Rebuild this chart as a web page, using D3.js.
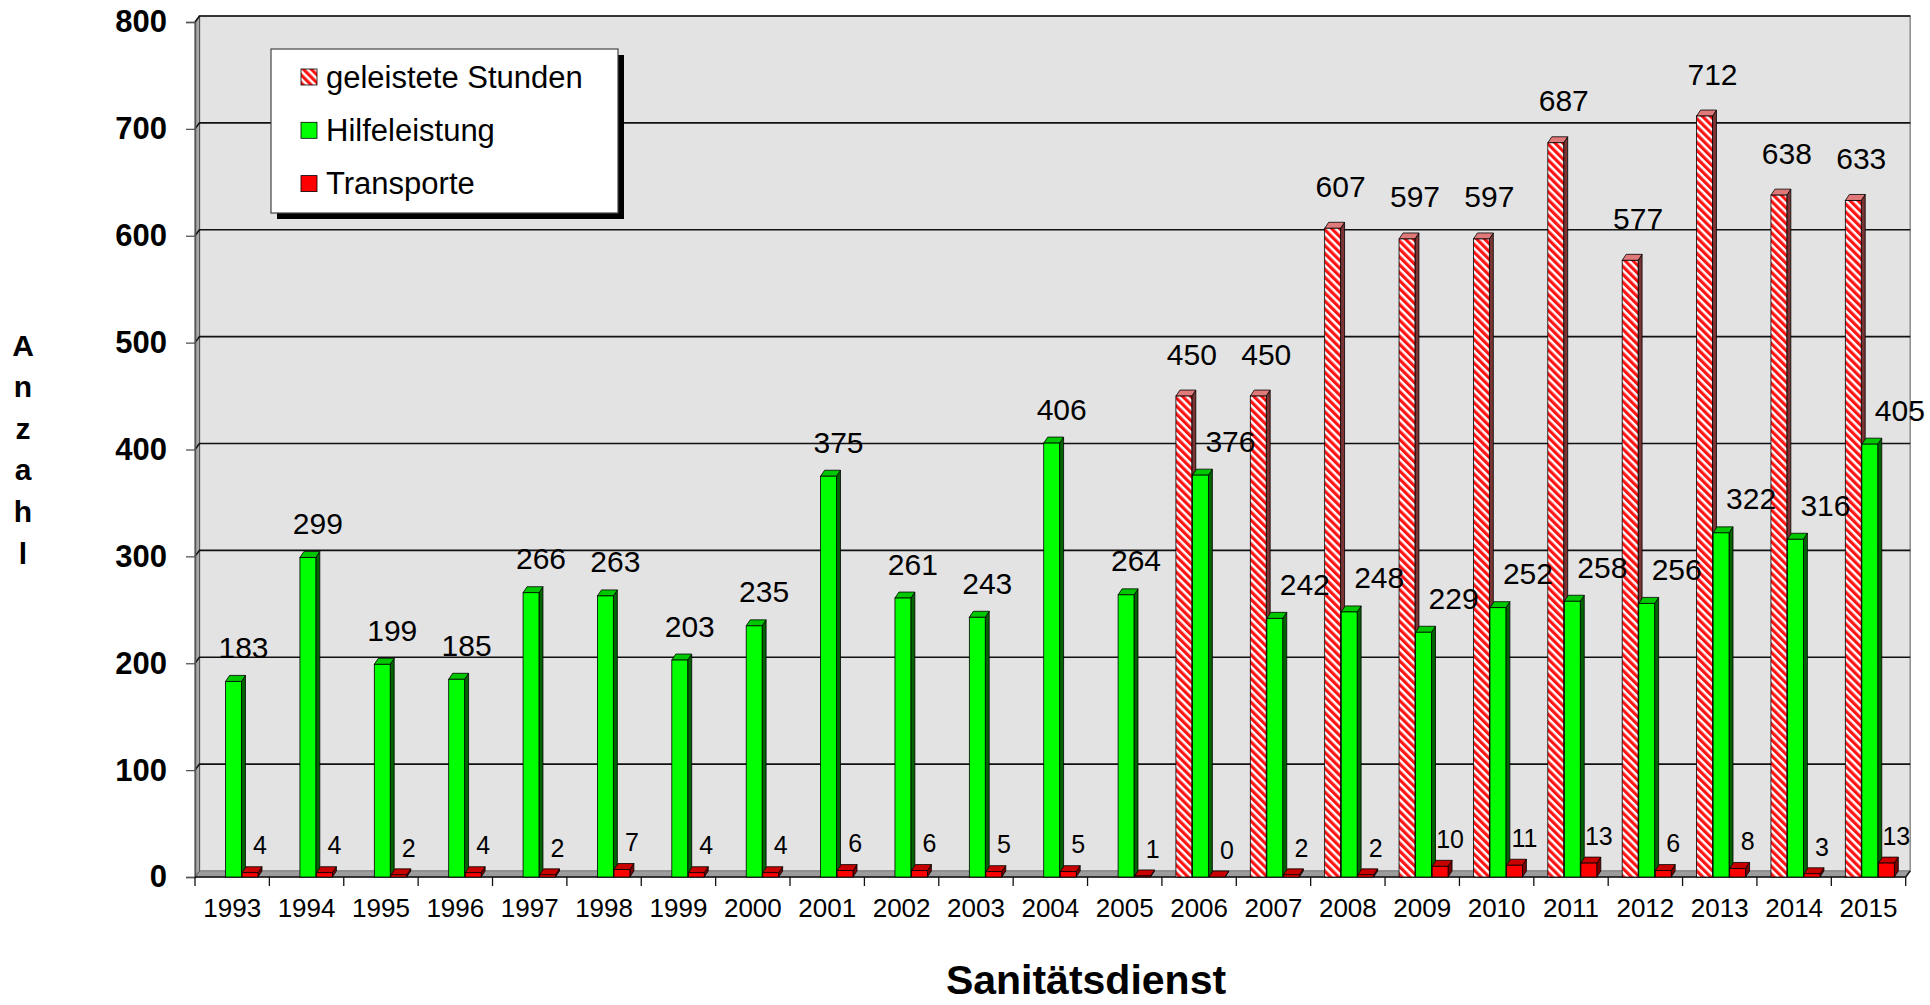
<!DOCTYPE html>
<html lang="de">
<head>
<meta charset="utf-8">
<title>Sanitätsdienst</title>
<style>
  body { margin: 0; background: #fff; }
  svg { display: block; font-family: "Liberation Sans", Arial, sans-serif; }
</style>
</head>
<body>
<script src="https://cdn.jsdelivr.net/npm/d3@7/dist/d3.min.js"></script>
<script>
// Werte
var years = [1993, 1994, 1995, 1996, 1997, 1998, 1999, 2000, 2001, 2002, 2003, 2004,
             2005, 2006, 2007, 2008, 2009, 2010, 2011, 2012, 2013, 2014, 2015];
var stunden = [null, null, null, null, null, null, null, null, null, null, null, null,
               null, 450, 450, 607, 597, 597, 687, 577, 712, 638, 633];
var hilfe = [183, 299, 199, 185, 266, 263, 203, 235, 375, 261, 243, 406,
             264, 376, 242, 248, 229, 252, 258, 256, 322, 316, 405];
var transporte = [4, 4, 2, 4, 2, 7, 4, 4, 6, 6, 5, 5,
                  1, 0, 2, 2, 10, 11, 13, 6, 8, 3, 13];
var seriesNames = ["geleistete Stunden", "Hilfeleistung", "Transporte"];
var yTicks = [0, 100, 200, 300, 400, 500, 600, 700, 800];
var axisTitle = "Anzahl";
var chartTitle = "Sanitätsdienst";

var width = 1930, height = 1005;
var depth = {x: 4.5, y: -6};      // Tiefe der Wände
var barDepth = {x: 4, y: -6};

var svg = d3.select("body").append("svg")
    .attr("width", width)
    .attr("height", height);

var defs = svg.append("defs");
var hatch = defs.append("pattern")
    .attr("id", "hatch")
    .attr("patternUnits", "userSpaceOnUse")
    .attr("width", 5.6)
    .attr("height", 5.6)
    .attr("patternTransform", "rotate(-45)");
hatch.append("rect").attr("width", 5.6).attr("height", 5.6).attr("fill", "#fff");
hatch.append("rect").attr("width", 3.2).attr("height", 5.6).attr("fill", "#ff1414");

var x = d3.scaleBand()
    .domain(years)
    .range([195, 1905.7])
    .padding(0);

var xs = d3.scaleBand()
    .domain(seriesNames)
    .range([14, 63])
    .paddingInner(0.04);

var y = d3.scaleLinear()
    .domain([0, 800])
    .range([877, 22]);

var x0 = x.range()[0], x1 = x.range()[1];
var yTop = y(800), yBase = y(0);

// Rückwand, Boden, Seitenwand
svg.append("rect")
    .attr("x", x0 + depth.x)
    .attr("y", yTop + depth.y)
    .attr("width", x1 - x0)
    .attr("height", yBase - yTop)
    .attr("fill", "#e3e3e3")
    .attr("stroke", "#8c8c8c")
    .attr("stroke-width", 1.5);

svg.append("polygon")
    .attr("points", [[x0, yBase], [x1, yBase], [x1 + depth.x, yBase + depth.y], [x0 + depth.x, yBase + depth.y]].join(" "))
    .attr("fill", "#9c9c9c")
    .attr("stroke", "#808080");

svg.append("polygon")
    .attr("points", [[x0, yTop], [x0 + depth.x, yTop + depth.y], [x0 + depth.x, yBase + depth.y], [x0, yBase]].join(" "))
    .attr("fill", "#a8a8a8")
    .attr("stroke", "#555");

// Gitternetz
var grid = svg.append("g");
grid.selectAll(".grid")
    .data(yTicks.filter(function(d){ return d > 0; }))
    .enter()
    .append("polyline")
    .attr("class", "grid")
    .attr("points", function(d){
        return [[x0, y(d)], [x0 + depth.x, y(d) + depth.y], [x1 + depth.x, y(d) + depth.y]].join(" ");
    })
    .attr("fill", "none")
    .attr("stroke", "#111")
    .attr("stroke-width", 1.6);

// Y-Achse
var yAxis = svg.append("g")
    .attr("transform", "translate(" + x0 + ",0)")
    .call(d3.axisLeft(y).tickValues(yTicks).tickSize(9).tickPadding(19));
yAxis.select(".domain").attr("stroke", "#555").attr("stroke-width", 1.5);
yAxis.selectAll(".tick line").attr("stroke", "#555").attr("stroke-width", 1.3);
yAxis.selectAll(".tick text")
    .attr("font-family", "Liberation Sans, Arial, sans-serif")
    .attr("font-size", 31)
    .attr("font-weight", "bold")
    .attr("fill", "#000");

// X-Achse
var xAxis = svg.append("g")
    .attr("transform", "translate(0," + yBase + ")")
    .call(d3.axisBottom(x).tickSize(0).tickPadding(22));
xAxis.select(".domain").remove();
xAxis.selectAll(".tick text")
    .attr("font-family", "Liberation Sans, Arial, sans-serif")
    .attr("font-size", 26)
    .attr("fill", "#000");

svg.append("line")
    .attr("x1", x0).attr("x2", x1)
    .attr("y1", yBase).attr("y2", yBase)
    .attr("stroke", "#111").attr("stroke-width", 1.6);
svg.append("line")
    .attr("x1", x1).attr("x2", x1 + depth.x)
    .attr("y1", yBase).attr("y2", yBase + depth.y)
    .attr("stroke", "#111").attr("stroke-width", 1.4);
svg.append("g").selectAll("line")
    .data(years.map(function(d){ return x(d); }).concat([x1]))
    .enter()
    .append("line")
    .attr("x1", function(d){ return d; })
    .attr("x2", function(d){ return d; })
    .attr("y1", yBase)
    .attr("y2", yBase + 9)
    .attr("stroke", "#111")
    .attr("stroke-width", 1.3);

// Säulen
var styles = {
    "geleistete Stunden": {front: "url(#hatch)", top: "#e07a7a", side: "#7a3434"},
    "Hilfeleistung": {front: "#00ff00", top: "#00c800", side: "#006400"},
    "Transporte": {front: "#ff0000", top: "#c80000", side: "#7a0000"}
};

var bars = [];
years.forEach(function(yr, i){
    [stunden[i], hilfe[i], transporte[i]].forEach(function(v, j){
        if (v === null) return;
        bars.push({year: yr, key: seriesNames[j], value: v, hatched: stunden[i] !== null});
    });
});

var barG = svg.append("g").selectAll("g")
    .data(bars)
    .enter()
    .append("g");

barG.each(function(d){
    var g = d3.select(this);
    var bx = x(d.year) + xs(d.key);
    var bw = xs.bandwidth();
    var top = y(d.value);
    var st = styles[d.key];
    g.append("polygon")
        .attr("points", [[bx + bw, top], [bx + bw + barDepth.x, top + barDepth.y],
                         [bx + bw + barDepth.x, yBase + barDepth.y], [bx + bw, yBase]].join(" "))
        .attr("fill", st.side)
        .attr("stroke", "#000")
        .attr("stroke-width", 0.8);
    g.append("polygon")
        .attr("points", [[bx, top], [bx + barDepth.x, top + barDepth.y],
                         [bx + bw + barDepth.x, top + barDepth.y], [bx + bw, top]].join(" "))
        .attr("fill", st.top)
        .attr("stroke", "#000")
        .attr("stroke-width", 0.8);
    if (yBase - top > 0.5) {
        g.append("rect")
            .attr("x", bx)
            .attr("y", top)
            .attr("width", bw)
            .attr("height", yBase - top)
            .attr("fill", st.front)
            .attr("stroke", "#000")
            .attr("stroke-width", 0.8);
    }
});

// Datenbeschriftung
svg.append("g").selectAll("text")
    .data(bars)
    .enter()
    .append("text")
    .attr("x", function(d){
        var c = x(d.year) + xs(d.key) + xs.bandwidth() / 2;
        if (d.key === "geleistete Stunden") return c + 8;
        if (d.key === "Hilfeleistung") return c + (d.hatched ? 30 : 10);
        return c + 10;
    })
    .attr("y", function(d){
        var off = d.key === "geleistete Stunden" ? 42 : (d.key === "Hilfeleistung" ? 34 : 27);
        return y(d.value) - off;
    })
    .attr("dy", "0.35em")
    .attr("text-anchor", "middle")
    .attr("font-size", function(d){ return d.key === "Transporte" ? 25 : 30; })
    .attr("fill", "#000")
    .text(function(d){ return d.value; });

// Achsentitel senkrecht, Buchstabe für Buchstabe
svg.append("g").selectAll("text")
    .data(axisTitle.split(""))
    .enter()
    .append("text")
    .attr("x", 23)
    .attr("y", function(d, i){ return 345 + i * 41.6; })
    .attr("dy", "0.35em")
    .attr("text-anchor", "middle")
    .attr("font-size", 30)
    .attr("font-weight", "bold")
    .text(function(d){ return d; });

svg.append("text")
    .attr("x", 1086)
    .attr("y", 994)
    .attr("text-anchor", "middle")
    .attr("font-size", 41)
    .attr("font-weight", "bold")
    .text(chartTitle);

// Legende
var legend = svg.append("g").attr("transform", "translate(271,49)");
legend.append("rect")
    .attr("x", 6).attr("y", 6)
    .attr("width", 347).attr("height", 164)
    .attr("fill", "#000");
legend.append("rect")
    .attr("width", 347).attr("height", 164)
    .attr("fill", "#fff")
    .attr("stroke", "#444")
    .attr("stroke-width", 1.2);
var item = legend.selectAll(".item")
    .data(seriesNames)
    .enter()
    .append("g")
    .attr("class", "item")
    .attr("transform", function(d, i){ return "translate(30," + (28 + i * 53.3) + ")"; });
item.append("rect")
    .attr("y", -8)
    .attr("width", 16).attr("height", 16)
    .attr("fill", function(d){ return styles[d].front; })
    .attr("stroke", "#000")
    .attr("stroke-width", 0.8);
item.append("text")
    .attr("x", 25)
    .attr("dy", "0.35em")
    .attr("font-size", 31)
    .text(function(d){ return d; });
</script>
</body>
</html>
